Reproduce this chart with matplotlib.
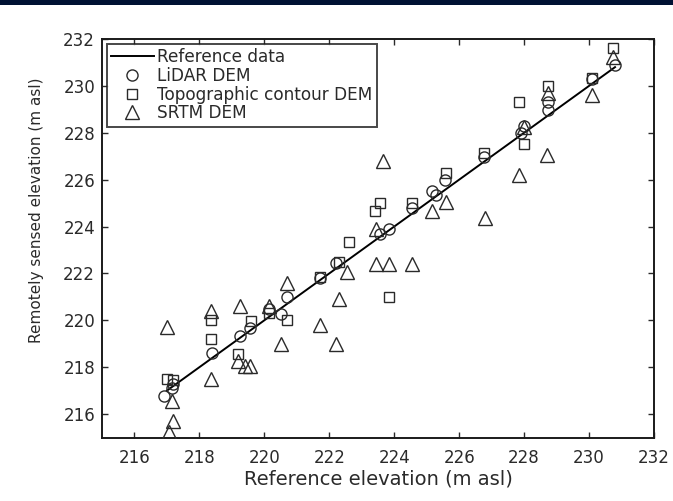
import matplotlib
matplotlib.use("Agg")
import matplotlib.pyplot as plt
from matplotlib.patches import Rectangle

plt.rcParams['font.family'] = ['DejaVu Sans']

# Reference line (y = x over reference range)
ref_x = [217.0, 230.8]
ref_y = [217.0, 230.8]

# LiDAR DEM (circles)
lidar_x = [216.9, 217.15, 217.2, 218.4, 219.25, 219.55, 220.15, 220.5, 220.7, 221.7,
           222.2, 223.55, 223.85, 224.55, 225.15, 225.3, 225.55, 226.75, 227.9, 228.0,
           228.75, 228.75, 230.1, 230.8]
lidar_y = [216.75, 217.1, 217.3, 218.6, 219.35, 219.65, 220.5, 220.25, 221.0, 221.8,
           222.45, 223.7, 223.9, 224.8, 225.5, 225.35, 226.0, 226.95, 228.0, 228.3,
           229.3, 228.95, 230.3, 230.9]

# Topographic contour DEM (squares)
topo_x = [217.0, 217.2, 218.35, 218.35, 219.2, 219.6, 220.15, 220.7, 221.7, 222.3,
          222.6, 223.4, 223.55, 223.85, 224.55, 225.6, 226.75, 227.85, 228.0, 228.75,
          230.1, 230.75]
topo_y = [217.5, 217.45, 219.2, 220.0, 218.55, 219.95, 220.3, 220.0, 221.85, 222.5,
          223.35, 224.65, 225.0, 221.0, 225.0, 226.3, 227.15, 229.3, 227.5, 230.0,
          230.35, 231.6]

# SRTM DEM (triangles)
srtm_x = [217.0, 217.15, 217.2, 217.05, 218.35, 218.35, 219.25, 219.2, 219.55, 219.4,
          220.15, 220.5, 220.7, 221.7, 222.2, 222.3, 222.55, 223.45, 223.45, 223.65,
          223.85, 224.55, 225.15, 225.6, 226.8, 227.85, 228.0, 228.7, 228.75, 230.1,
          230.75]
srtm_y = [219.7, 216.55, 215.7, 215.25, 220.4, 217.5, 220.6, 218.25, 218.05, 218.05,
          220.6, 219.0, 221.6, 219.8, 219.0, 220.9, 222.05, 223.9, 222.4, 226.8,
          222.4, 222.4, 224.65, 225.05, 224.35, 226.2, 228.25, 227.05, 229.7, 229.6,
          231.25]

xticks = [216, 218, 220, 222, 224, 226, 228, 230, 232]
yticks = [216, 218, 220, 222, 224, 226, 228, 230, 232]

fig = plt.figure(figsize=(6.73, 5.01), dpi=100)
fig.patch.set_facecolor('white')
fig.patches.append(Rectangle((0, 1 - 5 / 501), 1, 5 / 501, transform=fig.transFigure,
                             facecolor='#001233', edgecolor='none', zorder=0))

ax = fig.add_axes([102 / 673, 1 - 437.5 / 501, 552 / 673, 398.5 / 501])
mec = '#2a2a2a'
ax.plot(ref_x, ref_y, color='black', lw=1.4, label='Reference data', zorder=2)
ax.plot(lidar_x, lidar_y, ls='none', marker='o', ms=8, mfc='none', mec=mec, mew=1.0,
        label='LiDAR DEM', zorder=3)
ax.plot(topo_x, topo_y, ls='none', marker='s', ms=7.5, mfc='none', mec=mec, mew=1.0,
        label='Topographic contour DEM', zorder=3)
ax.plot(srtm_x, srtm_y, ls='none', marker='^', ms=9.5, mfc='none', mec=mec, mew=1.0,
        label='SRTM DEM', zorder=3)

ax.set_xlim(215, 232)
ax.set_ylim(215, 232)
ax.set_xticks(xticks)
ax.set_yticks(yticks)
ax.tick_params(direction='in', top=True, right=True, length=4, width=1.0,
               labelsize=12, colors='#2a2a2a')
ax.tick_params(axis='y', pad=5)
ax.tick_params(axis='x', pad=8)
for s in ax.spines.values():
    s.set_linewidth(1.4)
    s.set_color('#1a1a1a')

ax.set_xlabel('Reference elevation (m asl)', fontsize=14, color='#2a2a2a', labelpad=2)
ax.set_ylabel('Remotely sensed elevation (m asl)', fontsize=11, color='#2a2a2a')
ax.yaxis.set_label_coords(-0.105, 0.571)

leg = ax.legend(loc='upper left', fontsize=12.2, frameon=True, fancybox=False,
                edgecolor='#1a1a1a', borderpad=0.25, labelspacing=0.04,
                handlelength=2.5, handletextpad=0.2, borderaxespad=0.3)
leg.get_frame().set_linewidth(1.4)
for t in leg.get_texts():
    t.set_color('#2a2a2a')

fig.savefig('out.png', dpi=100, facecolor='white')
